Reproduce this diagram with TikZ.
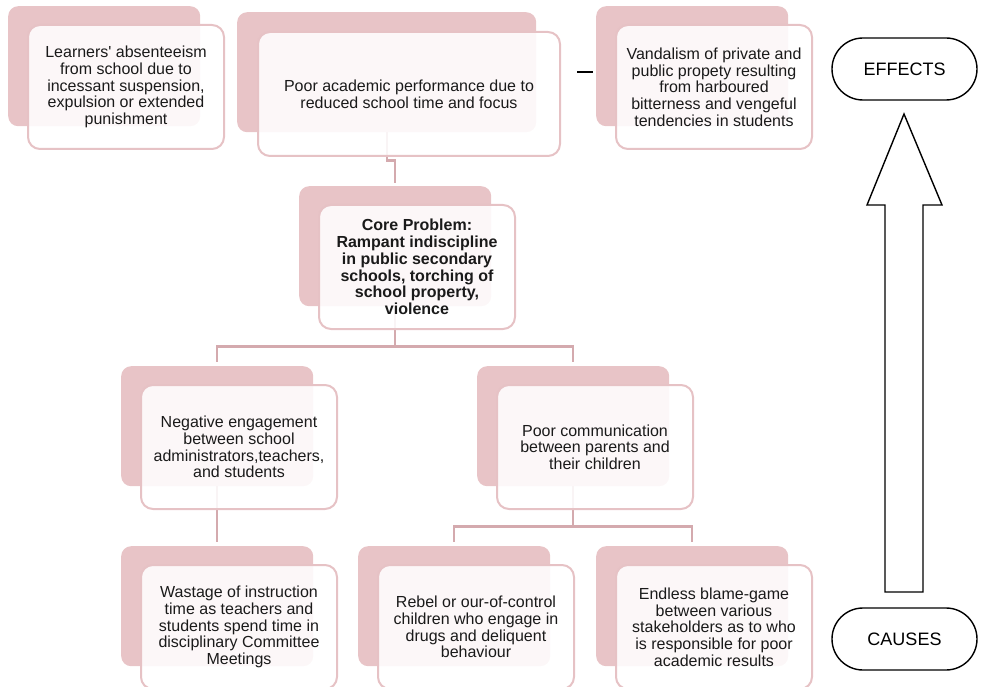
\documentclass[tikz,border=0pt]{standalone}
\usepackage{fontspec}
\setmainfont{Liberation Sans}[Ligatures=TeXOff]
\definecolor{backpink}{HTML}{E8C4C7}
\definecolor{edgepink}{HTML}{E6C2C5}
\definecolor{linepink}{HTML}{D4AAAE}
\definecolor{ink}{HTML}{1A1A1A}
\tikzset{
  backbox/.style={rectangle, rounded corners=10pt, fill=backpink, draw=none, inner sep=0pt, minimum height=120pt, anchor=north west},
  frontbox/.style={rectangle, rounded corners=12pt, draw=edgepink, line width=2pt, fill=white, fill opacity=0.88, text opacity=1, inner sep=0pt, minimum height=124pt, anchor=north west, align=center, text=ink, font=\fontsize{16}{16.7}\selectfont},
  conn/.style={draw=linepink, line width=2.3pt},
  pill/.style={rectangle, rounded corners=31pt, draw=black, line width=1.4pt, minimum width=145pt, minimum height=62pt, inner sep=0pt, font=\fontsize{18}{20}\selectfont},
}
\begin{document}
\begin{tikzpicture}[x=1pt,y=-1pt]
\useasboundingbox (0,0) rectangle (983,687);
% back boxes
\node[backbox, minimum width=192pt] (b1) at (8,6) {};
\node[backbox, minimum width=299pt] (b2) at (237,12) {};
\node[backbox, minimum width=192pt] (b3) at (596,6) {};
\node[backbox, minimum width=192pt] (b4) at (299,186) {};
\node[backbox, minimum width=192pt] (b5) at (121,366) {};
\node[backbox, minimum width=192pt] (b6) at (477,366) {};
\node[backbox, minimum width=192pt] (b7) at (121,546) {};
\node[backbox, minimum width=192pt] (b8) at (358,546) {};
\node[backbox, minimum width=192pt] (b9) at (596,546) {};
% connectors
\draw[conn, shorten >=3pt] (b2.south) -- ++(0,28) -| (b4.north);
\draw[conn] (b4.south) -- ++(0,40) coordinate (j1);
\draw[conn, shorten >=4pt] (j1) -| (b5.north);
\draw[conn, shorten >=4pt] (j1) -| (b6.north);
\draw[conn, shorten >=4pt] (b5.south) -- (b7.north);
\draw[conn] (b6.south) -- ++(0,40) coordinate (j2);
\draw[conn, shorten >=4pt] (j2) -| (b8.north);
\draw[conn, shorten >=4pt] (j2) -| (b9.north);
% front boxes
\node[frontbox, minimum width=196pt] (f1) at (27,24) {Learners' absenteeism\\from school due to\\incessant suspension,\\expulsion or extended\\punishment};
\node[frontbox, minimum width=302pt] (f2) at (257,31) {Poor academic performance due to\\reduced school time and focus};
\node[frontbox, minimum width=196pt] (f3) at (615,24) {Vandalism of private and\\public propety resulting\\from harboured\\bitterness and vengeful\\tendencies in students};
\node[frontbox, minimum width=196pt, font=\fontsize{16}{16.7}\selectfont\bfseries] (f4) at (318,204) {Core Problem:\\Rampant indiscipline\\in public secondary\\schools, torching of\\school property,\\violence};
\node[frontbox, minimum width=196pt] (f5) at (140,384) {Negative engagement\\between school\\administrators,teachers,\\and students};
\node[frontbox, minimum width=196pt] (f6) at (496,384) {Poor communication\\between parents and\\their children};
\node[frontbox, minimum width=196pt] (f7) at (140,564) {Wastage of instruction\\time as teachers and\\students spend time in\\disciplinary Committee\\Meetings};
\node[frontbox, minimum width=196pt] (f8) at (377,564) {Rebel or our-of-control\\children who engage in\\drugs and deliquent\\behaviour};
\node[frontbox, minimum width=196pt] (f9) at (615,564) {Endless blame-game\\between various\\stakeholders as to who\\is responsible for poor\\academic results};
% short mark
\coordinate (m1) at (577,72);
\coordinate (m2) at (593,72);
\draw[line width=1.5pt, black] (m1) -- (m2);
% effects / causes
\node[pill] (eff) at (904.5,69) {EFFECTS};
\node[pill] (cau) at (904.5,639) {CAUSES};
\draw[line width=1.4pt, black, line join=miter] (885,592) -- (885,205) -- (867,205) -- (904,114) -- (942,205) -- (923,205) -- (923,592) -- cycle;
\end{tikzpicture}
\end{document}
